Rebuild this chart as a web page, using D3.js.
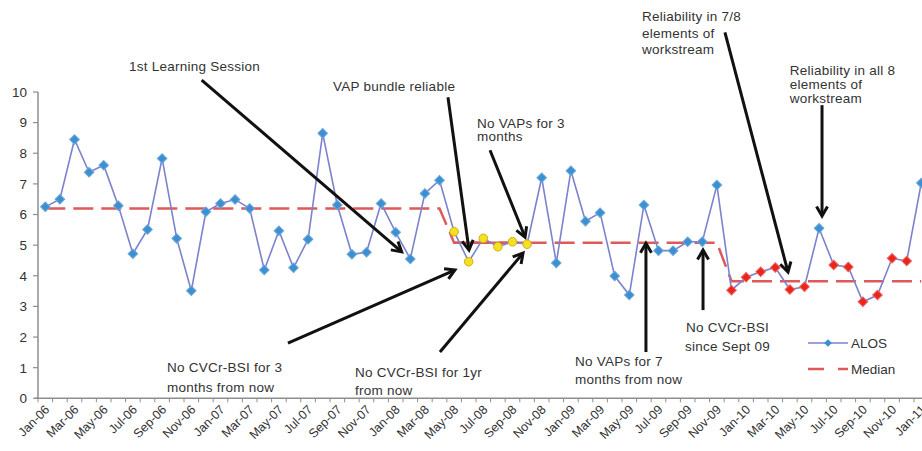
<!DOCTYPE html>
<html>
<head>
<meta charset="utf-8">
<script src="https://cdn.jsdelivr.net/npm/d3@7"></script>
<style>
  body { margin: 0; background: #fff; }
  svg text { font-family: "Liberation Sans", Arial, sans-serif; fill: #333; }
</style>
</head>
<body>
<div id="chart"></div>
<script>
// monthly categories, Jan-06 .. Jan-11
const months = [
  "Jan-06","Feb-06","Mar-06","Apr-06","May-06","Jun-06","Jul-06","Aug-06","Sep-06","Oct-06","Nov-06","Dec-06",
  "Jan-07","Feb-07","Mar-07","Apr-07","May-07","Jun-07","Jul-07","Aug-07","Sep-07","Oct-07","Nov-07","Dec-07",
  "Jan-08","Feb-08","Mar-08","Apr-08","May-08","Jun-08","Jul-08","Aug-08","Sep-08","Oct-08","Nov-08","Dec-08",
  "Jan-09","Feb-09","Mar-09","Apr-09","May-09","Jun-09","Jul-09","Aug-09","Sep-09","Oct-09","Nov-09","Dec-09",
  "Jan-10","Feb-10","Mar-10","Apr-10","May-10","Jun-10","Jul-10","Aug-10","Sep-10","Oct-10","Nov-10","Dec-10",
  "Jan-11"
];

// average length of stay
const alos = [
  6.25, 6.50, 8.45, 7.38, 7.61, 6.29, 4.72, 5.51, 7.83, 5.22, 3.51, 6.09,
  6.36, 6.49, 6.20, 4.19, 5.47, 4.26, 5.19, 8.65, 6.31, 4.70, 4.77, 6.36,
  5.42, 4.55, 6.69, 7.12, 5.44, 4.46, 5.22, 4.95, 5.11, 5.03, 7.20, 4.42,
  7.43, 5.78, 6.06, 3.99, 3.37, 6.31, 4.82, 4.82, 5.11, 5.11, 6.96, 3.53,
  3.95, 4.13, 4.27, 3.55, 3.64, 5.55, 4.35, 4.29, 3.15, 3.37, 4.57, 4.48,
  7.03
];

const median = [
  6.2, 6.2, 6.2, 6.2, 6.2, 6.2, 6.2, 6.2, 6.2, 6.2, 6.2, 6.2,
  6.2, 6.2, 6.2, 6.2, 6.2, 6.2, 6.2, 6.2, 6.2, 6.2, 6.2, 6.2,
  6.2, 6.2, 6.2, 6.2, 5.08, 5.08, 5.08, 5.08, 5.08, 5.08, 5.08, 5.08,
  5.08, 5.08, 5.08, 5.08, 5.08, 5.08, 5.08, 5.08, 5.08, 5.08, 5.08, 3.82,
  3.82, 3.82, 3.82, 3.82, 3.82, 3.82, 3.82, 3.82, 3.82, 3.82, 3.82, 3.82,
  3.82
];

const vapReliableMonths = ["May-08","Jun-08","Jul-08","Aug-08","Sep-08","Oct-08"];
const bsiFreeMonths = ["Dec-09","Jan-10","Feb-10","Mar-10","Apr-10","May-10",
                       "Jul-10","Aug-10","Sep-10","Oct-10","Nov-10","Dec-10"];

const yTicks = [0, 1, 2, 3, 4, 5, 6, 7, 8, 9, 10];
const xLabels = months.filter((m, i) => i % 2 === 0);

// annotations, placed in chart units: [month index, value]
const notes = [
  { lines: ["1st Learning Session"], at: [5.73, 10.67] },
  { lines: ["VAP bundle reliable"], at: [19.71, 10.02] },
  { lines: ["No VAPs for 3", "months"], at: [29.57, 8.84], gap: 0.44 },
  { lines: ["Reliability in 7/8", "elements of", "workstream"], at: [40.87, 12.31], gap: 0.54 },
  { lines: ["Reliability in all 8", "elements of", "workstream"], at: [50.99, 10.55], gap: 0.46 },
  { lines: ["No CVCr-BSI for 3", "months from now"], at: [8.34, 0.87], gap: 0.66 },
  { lines: ["No CVCr-BSI for 1yr", "from now"], at: [21.21, 0.69], gap: 0.57 },
  { lines: ["No VAPs for 7", "months from now"], at: [36.28, 1.05], gap: 0.58 },
  { lines: ["No CVCr-BSI", "since Sept 09"], at: [46.73, 2.15], gap: 0.61, anchor: "middle" }
];

const arrows = [
  { from: [10.71, 10.39], to: [24.41, 4.78] },
  { from: [27.58, 9.83], to: [29.02, 4.84] },
  { from: [30.46, 8.10], to: [32.86, 5.26] },
  { from: [46.55, 11.95], to: [50.87, 4.12] },
  { from: [53.2, 9.57], to: [53.2, 5.95] },
  { from: [16.62, 1.80], to: [28.06, 4.19] },
  { from: [27.03, 1.51], to: [32.72, 4.74] },
  { from: [41.14, 1.51], to: [41.14, 5.06] },
  { from: [45.05, 2.88], to: [45.05, 4.84] }
];

const width = 922, height = 451;
const margin = { top: 92, left: 38, bottom: 53 };
const step = 14.6;

const svg = d3.select("#chart").append("svg")
  .attr("width", width)
  .attr("height", height);

const x = d3.scaleBand()
  .domain(months)
  .range([margin.left, margin.left + months.length * step]);

const y = d3.scaleLinear()
  .domain([0, 10])
  .range([height - margin.bottom + 0.3, margin.top]);

const cx = m => x(m) + x.bandwidth() / 2;

// month index -> pixel, for the notes
const xi = d3.scaleLinear()
  .domain([0, months.length - 1])
  .range([cx(months[0]), cx(months[months.length - 1])]);

const axisColor = "#8e8e8e";

// y axis
svg.append("line")
  .attr("x1", margin.left).attr("x2", margin.left)
  .attr("y1", y(10)).attr("y2", y(0))
  .attr("stroke", axisColor).attr("stroke-width", 1.5);

svg.selectAll(".ytick")
  .data(yTicks)
  .join("line")
  .attr("x1", margin.left - 5).attr("x2", margin.left)
  .attr("y1", d => y(d)).attr("y2", d => y(d))
  .attr("stroke", axisColor).attr("stroke-width", 1.2);

svg.selectAll(".ylab")
  .data(yTicks)
  .join("text")
  .attr("x", 27)
  .attr("y", d => y(d))
  .attr("dy", "0.36em")
  .attr("text-anchor", "end")
  .style("font-size", "13.5px")
  .text(d => d);

// x axis
svg.append("line")
  .attr("x1", margin.left - 3).attr("x2", width)
  .attr("y1", y(0)).attr("y2", y(0))
  .attr("stroke", axisColor).attr("stroke-width", 1.5);

svg.selectAll(".xtick")
  .data(months)
  .join("line")
  .attr("x1", d => x(d)).attr("x2", d => x(d))
  .attr("y1", y(0)).attr("y2", y(0) + 4)
  .attr("stroke", axisColor).attr("stroke-width", 1);

svg.selectAll(".xlab")
  .data(xLabels)
  .join("text")
  .attr("transform", d => `translate(${cx(d) + 5},${y(0) + 12}) rotate(-45)`)
  .attr("text-anchor", "end")
  .style("font-size", "12.5px")
  .text(d => d);

// median line
const medianLine = d3.line()
  .x((d, i) => cx(months[i]))
  .y(d => y(d));

const medColor = "#de5a5a";

svg.append("path")
  .datum(median)
  .attr("d", medianLine)
  .attr("fill", "none")
  .attr("stroke", medColor)
  .attr("stroke-width", 2.5)
  .attr("stroke-dasharray", "20,8");

// solid stretch of the median while the VAP bundle was reliable
const vapIdx = vapReliableMonths.map(m => months.indexOf(m));
svg.append("path")
  .datum(vapIdx)
  .attr("d", d3.line().x(i => cx(months[i])).y(i => y(median[i])))
  .attr("fill", "none")
  .attr("stroke", medColor)
  .attr("stroke-width", 2.2);

// ALOS line
const alosLine = d3.line()
  .x((d, i) => cx(months[i]))
  .y(d => y(d));

svg.append("path")
  .datum(alos)
  .attr("d", alosLine)
  .attr("fill", "none")
  .attr("stroke", "#7c82cc")
  .attr("stroke-width", 1.6);

// markers
const diamond = d3.symbol(d3.symbolSquare, 46);
const pts = months.map((m, i) => ({ m, v: alos[i] }));

svg.selectAll(".pt")
  .data(pts)
  .join("path")
  .attr("d", d => vapReliableMonths.includes(d.m) ? d3.symbol(d3.symbolCircle, 58)() : diamond())
  .attr("transform", d => `translate(${cx(d.m)},${y(d.v)})` + (vapReliableMonths.includes(d.m) ? "" : " rotate(45)"))
  .attr("fill", d => vapReliableMonths.includes(d.m) ? "#f2e41c" : bsiFreeMonths.includes(d.m) ? "#e8261f" : "#3c8fd0")
  .attr("stroke", d => vapReliableMonths.includes(d.m) ? "#d9a520" : bsiFreeMonths.includes(d.m) ? "#f0605a" : "#6aa8dc")
  .attr("stroke-width", 1);

// notes
notes.forEach(n => {
  const t = svg.append("text")
    .attr("text-anchor", n.anchor || "start")
    .style("font-size", "13.5px")
    .style("letter-spacing", "0.25px");
  n.lines.forEach((line, k) => {
    t.append("tspan")
      .attr("x", xi(n.at[0]))
      .attr("y", y(n.at[1] - k * (n.gap || 0)))
      .text(line);
  });
});

// arrows
arrows.forEach(a => {
  const x1 = xi(a.from[0]), y1 = y(a.from[1]);
  const x2 = xi(a.to[0]), y2 = y(a.to[1]);
  const ang = Math.atan2(y2 - y1, x2 - x1);
  const head = 11, spread = Math.PI / 6;
  const g = svg.append("g")
    .attr("stroke", "#111")
    .attr("stroke-width", 3)
    .attr("fill", "none");
  g.append("line")
    .attr("x1", x1).attr("y1", y1)
    .attr("x2", x2 - Math.cos(ang) * 1.5).attr("y2", y2 - Math.sin(ang) * 1.5);
  g.append("path")
    .attr("stroke-linejoin", "miter")
    .attr("d", `M${x2 - head * Math.cos(ang - spread)},${y2 - head * Math.sin(ang - spread)}
                L${x2},${y2}
                L${x2 - head * Math.cos(ang + spread)},${y2 - head * Math.sin(ang + spread)}`);
});

// legend
const lg = svg.append("g");
const lgX = 808, lgW = 40;
lg.append("line")
  .attr("x1", lgX).attr("x2", lgX + lgW)
  .attr("y1", 343).attr("y2", 343)
  .attr("stroke", "#7c82cc").attr("stroke-width", 1.6);
lg.append("path")
  .attr("d", d3.symbol(d3.symbolSquare, 30)())
  .attr("transform", `translate(${lgX + lgW / 2},343) rotate(45)`)
  .attr("fill", "#3c8fd0");
lg.append("text")
  .attr("x", lgX + lgW + 3).attr("y", 343).attr("dy", "0.36em")
  .style("font-size", "13.5px")
  .text("ALOS");
lg.append("line")
  .attr("x1", lgX).attr("x2", lgX + lgW)
  .attr("y1", 369).attr("y2", 369)
  .attr("stroke", medColor).attr("stroke-width", 2.5)
  .attr("stroke-dasharray", "16,14");
lg.append("text")
  .attr("x", lgX + lgW + 3).attr("y", 369).attr("dy", "0.36em")
  .style("font-size", "13.5px")
  .text("Median");
</script>
</body>
</html>
